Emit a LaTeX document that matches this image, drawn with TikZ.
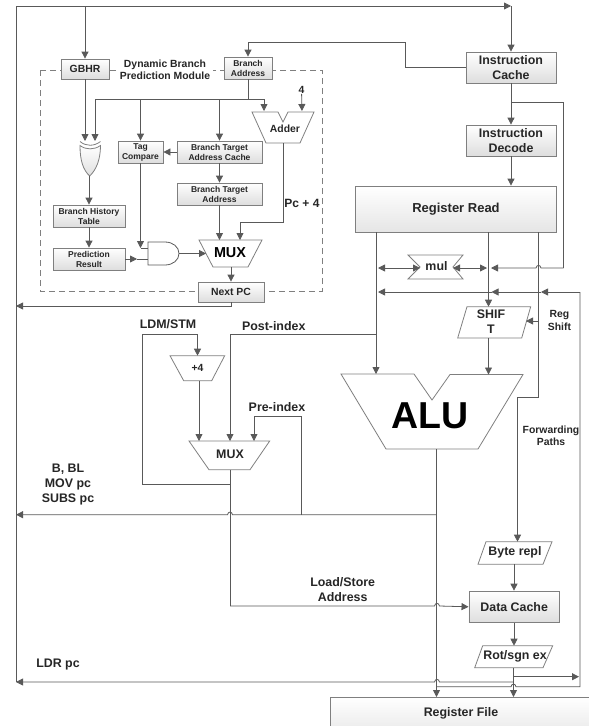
\documentclass[tikz,border=0pt]{standalone}
\usepackage{fontspec}
\setmainfont{Liberation Sans}
\usetikzlibrary{arrows.meta}
\definecolor{linec}{HTML}{595959}
\definecolor{edgec}{HTML}{7F7F7F}
\tikzset{
  wire/.style={draw=linec, line width=0.8pt},
  arrow/.style={wire, -{Triangle[length=7pt,width=7pt]}},
  twoway/.style={wire, {Triangle[length=7pt,width=7pt]}-{Triangle[length=7pt,width=7pt]}},
  outline/.style={draw=edgec, line width=0.8pt},
  fsm/.style={font=\fontsize{8.5}{10}\selectfont\bfseries, text=black!85},
  fmd/.style={font=\fontsize{10.4}{12.3}\selectfont\bfseries, text=black!85},
  flg/.style={font=\fontsize{12.4}{15}\selectfont\bfseries, text=black!85},
  box/.style={outline, rectangle, align=center, inner sep=0pt, top color=white, bottom color=black!13},
  lab/.style={align=center, inner sep=0pt}
}
% hop over a crossing wire, going left or right
\newcommand{\hopl}[2]{-- (#1+2.5,#2) .. controls (#1+2,#2-3.5) and (#1-2,#2-3.5) .. (#1-2.5,#2)}
\newcommand{\hopr}[2]{-- (#1-2.5,#2) .. controls (#1-2,#2-3.5) and (#1+2,#2-3.5) .. (#1+2.5,#2)}
\begin{document}
\begin{tikzpicture}[x=1pt, y=-1pt]
  \useasboundingbox (0,0) rectangle (589,726);

  % Prediction module frame
  \draw[outline, dashed, dash pattern=on 6pt off 4pt] (40,70) rectangle (322,291);
  \node[lab, fmd, fill=white, inner xsep=3pt] (dynlabel) at (165,69.5) {Dynamic Branch\\Prediction Module};

  % Boxes of the prediction module
  \node[box, fmd, minimum width=48pt, minimum height=20pt] (gbhr) at (85,69) {GBHR};
  \node[box, fsm, minimum width=48pt, minimum height=22pt] (braddr) at (248,68) {Branch\\Address};
  \node[box, fsm, minimum width=45pt, minimum height=22pt] (tagcmp) at (140.5,152) {Tag\\Compare};
  \node[box, fsm, minimum width=85pt, minimum height=22pt] (btac) at (219.5,152) {Branch Target\\Address Cache};
  \node[box, fsm, minimum width=85pt, minimum height=22pt] (bta) at (219.5,194) {Branch Target\\Address};
  \node[box, fsm, minimum width=72pt, minimum height=22pt] (histtbl) at (89,216) {Branch History\\Table};
  \node[box, fsm, minimum width=72pt, minimum height=22pt] (predres) at (89,259) {Prediction\\Result};
  \node[box, fmd, minimum width=66pt, minimum height=20pt] (nextpc) at (231,292) {Next PC};

  % Pipeline boxes
  \node[box, flg, minimum width=90pt, minimum height=31pt] (icache) at (511,67.5) {Instruction\\Cache};
  \node[box, flg, minimum width=90pt, minimum height=31pt] (idecode) at (511,140.5) {Instruction\\Decode};
  \node[box, font=\fontsize{13}{15}\selectfont\bfseries, text=black!85, bottom color=black!10, minimum width=200.5pt, minimum height=46pt] (regread) at (456,209) {Register Read};
  \node[box, flg, minimum width=90.5pt, minimum height=31.5pt] (dcache) at (514.2,606.8) {Data Cache};
  \node[box, flg, minimum width=262pt, minimum height=34pt, text depth=4pt, bottom color=black!8] (regfile) at (461,714) {Register File};

  % XOR and AND gates
  \draw[outline] (80,141.5) .. controls (86,146.5) and (94,146.5) .. (100.5,141.5);
  \draw[outline, top color=white, bottom color=black!12] (80,145.5) .. controls (86,150) and (94,150) .. (100.5,145.5)
    .. controls (100.5,160) and (96,170) .. (89.7,176) .. controls (83,170) and (80,160) .. (80,145.5) -- cycle;
  \draw[outline, draw=linec] (148,242) -- (165,242) .. controls (173,242) and (179,247) .. (179,253.5)
    .. controls (179,260) and (173,265) .. (165,265) -- (148,265) -- cycle;

  % Adder
  \draw[outline] (252,112) -- (278,112) -- (283,122) -- (288,112) -- (314,112) -- (300,143) -- (266,143) -- cycle;
  \node[lab, fmd] (addlabel) at (285,129) {Adder};
  % Upper mux
  \draw[outline] (199,240) -- (262,240) -- (248,267) -- (213,267) -- cycle;
  \node[lab, font=\fontsize{14.4}{16}\selectfont\bfseries] (muxlabel) at (230,253) {MUX};
  % mul
  \draw[outline] (408,255) -- (463,255) -- (453,267) -- (463,279) -- (408,279) -- (420,267) -- cycle;
  \node[lab, flg] (mullabel) at (436.5,266) {mul};
  % SHIFT
  \draw[outline] (467,306.7) -- (530.7,306.7) -- (521.7,338) -- (457.7,338) -- cycle;
  \node[lab, flg] (shiftlabel) at (491,322) {SHIF\\T};
  % ALU
  \draw[outline] (341,374) -- (414,374) -- (432,400) -- (450,374.5) -- (523,374.5) -- (478,449) -- (386,449) -- cycle;
  \node[lab, font=\fontsize{37.5}{40}\selectfont\bfseries, text=black] (alulabel) at (430,416) {ALU};
  % +4
  \draw[outline] (170,355.7) -- (224.7,355.7) -- (211.7,380.7) -- (183.7,380.7) -- cycle;
  \node[lab, fmd] (pluslabel) at (197.5,367.5) {+4};
  % Lower mux
  \draw[outline] (189,441) -- (269.7,441) -- (250,469.7) -- (209,469.7) -- cycle;
  \node[lab, flg] (lmuxlabel) at (230,454) {MUX};
  % Byte repl and Rot/sgn
  \draw[outline] (486,541.7) -- (552,541.7) -- (543,564.3) -- (478,564.3) -- cycle;
  \node[lab, flg] (bytelabel) at (515,552.5) {Byte repl};
  \draw[outline] (482.7,645.7) -- (552.7,645.7) -- (543,667.7) -- (474.7,667.7) -- cycle;
  \node[lab, flg] (rotlabel) at (515,656) {Rot/sgn ex};

  % Labels
  \node[lab, fmd] (fourlabel) at (301.5,90) {4};
  \node[lab, flg, font=\fontsize{12}{15}\selectfont\bfseries] (pclabel) at (302,203) {Pc + 4};
  \node[lab, flg] (ldmlabel) at (168,324) {LDM/STM};
  \node[lab, flg] (postlabel) at (273.7,326) {Post-index};
  \node[lab, flg] (prelabel) at (277,407) {Pre-index};
  \node[lab, flg] (blabel) at (68,485) {B, BL\\MOV pc\\SUBS pc};
  \node[lab, fmd] (reglabel) at (559.5,320.5) {Reg\\Shift};
  \node[lab, fmd] (fwdlabel) at (551,436) {Forwarding\\Paths};
  \node[lab, flg] (lslabel) at (342.7,589.5) {Load/Store\\Address};
  \node[lab, flg] (ldrlabel) at (58,664.5) {LDR pc};

  % Junctions
  \coordinate (topl) at (16,6);
  \coordinate (topr) at (511,6);
  \coordinate (loopb) at (16,682);
  \coordinate (loopm) at (16,306);
  \coordinate (retb) at (405.5,42);
  \coordinate (bus) at (248,99);
  \coordinate (xorin1) at (85,141);
  \coordinate (xorin2) at (95,141);
  \coordinate (xorout) at (89,176);
  \coordinate (addin1) at (264,111);
  \coordinate (addin2) at (302,111);
  \coordinate (addout) at (283,143);
  \coordinate (addbend) at (283,222);
  \coordinate (muxin1) at (219.5,240);
  \coordinate (muxin2) at (240,240);
  \coordinate (muxleft) at (206,253.5);
  \coordinate (muxout) at (231,267);
  \coordinate (andbend) at (140.5,248);
  \coordinate (andin1) at (148,248);
  \coordinate (andmid) at (137,259);
  \coordinate (andin2) at (148,259);
  \coordinate (andout) at (179,253.5);
  \coordinate (tapd) at (511,102);
  \coordinate (tapr) at (563.5,102);
  \coordinate (tapb) at (563.5,268);
  \coordinate (mulend) at (491,268);
  \coordinate (rda) at (376,232);
  \coordinate (rdb) at (488.5,232);
  \coordinate (rdc) at (538.5,232);
  \coordinate (mull) at (420,268);
  \coordinate (mulr) at (453,268);
  \coordinate (mula) at (378,268);
  \coordinate (mulb) at (487,268);
  \coordinate (fwdtop) at (580,292);
  \coordinate (fwdc) at (541,292);
  \coordinate (fwdb) at (491.5,292);
  \coordinate (fwda) at (378,292);
  \coordinate (shin) at (488.5,306.7);
  \coordinate (shout) at (488.5,338);
  \coordinate (shreg) at (538.5,321);
  \coordinate (shregin) at (526,321);
  \coordinate (alua) at (376,374);
  \coordinate (alub) at (488.5,374.5);
  \coordinate (aluout) at (436.5,449);
  \coordinate (fwdbend) at (538.5,397);
  \coordinate (fwdleft) at (517.5,397);
  \coordinate (byteout) at (514,564.3);
  \coordinate (bytein) at (517.5,541.7);
  \coordinate (rotin) at (514,645.7);
  \coordinate (rotout) at (513.5,667.7);
  \coordinate (rottap) at (513.5,676.7);
  \coordinate (rotarr) at (579,676.7);
  \coordinate (rotldr) at (513.5,682);
  \coordinate (rfin) at (513.5,697);
  \coordinate (rfalu) at (436.5,697);
  \coordinate (fwdbot) at (580,686.7);
  \coordinate (fwdend) at (437,686.7);
  \coordinate (postr) at (376,334);
  \coordinate (postl) at (230,334);
  \coordinate (lmuxb) at (230,441);
  \coordinate (lmuxa) at (199,441);
  \coordinate (lmuxc) at (254,441);
  \coordinate (lmuxout) at (230,469.7);
  \coordinate (ldmtap) at (230,484.7);
  \coordinate (ldml) at (142,484.7);
  \coordinate (ldmt) at (142,334);
  \coordinate (plusin) at (197.5,355.7);
  \coordinate (plusout) at (199,380.7);
  \coordinate (pcbus) at (436.5,514.7);
  \coordinate (pcl) at (16,514.7);
  \coordinate (pretap) at (301,514.7);
  \coordinate (pret) at (301,416.3);
  \coordinate (lsbend) at (230,606);

  % Prediction module wires
  \draw[wire] (loopb) -- (topl);
  \draw[arrow] (topl) -- (topr);
  \draw[arrow] (topr) -- (icache.north);
  \draw[arrow] (gbhr.north |- topl) -- (gbhr.north);
  \draw[arrow] (icache.west) -| (retb) -| (braddr.north);
  \draw[arrow] (gbhr.south) -- (xorin1);
  \draw[wire] (braddr.south) -- (bus);
  \draw[arrow] (bus) -| (xorin2);
  \draw[arrow] (bus) -| (addin1);
  \draw[arrow] (tagcmp.north |- bus) -- (tagcmp.north);
  \draw[arrow] (btac.north |- bus) -- (btac.north);
  \draw[arrow] (fourlabel) -- (addin2);
  \draw[arrow] (btac.west) -- (tagcmp.east);
  \draw[arrow] (btac.south) -- (bta.north);
  \draw[arrow] (bta.south) -- (muxin1);
  \draw[arrow] (addout) -- (addbend) -| (muxin2);
  \draw[arrow] (xorout) -- (histtbl.north);
  \draw[arrow] (histtbl.south) -- (predres.north);
  \draw[arrow] (tagcmp.south) -- (andbend);
  \draw[wire] (andbend) -- (andin1);
  \draw[arrow] (predres.east) -- (andmid);
  \draw[wire] (andmid) -- (andin2);
  \draw[arrow] (andout) -- (muxleft);
  \draw[arrow] (muxout) -- (nextpc.north);
  \draw[arrow] (nextpc.south) |- (loopm);

  % Pipeline wires
  \draw[arrow] (icache.south) -- (idecode.north);
  \draw[arrow] (idecode.south) -- (idecode.south |- regread.north);
  \draw[wire] (tapd) -- (tapr) -- (tapb);
  \draw[arrow] (tapb) \hopl{538.5}{268} -- (mulend);
  \draw[twoway] (mula) -- (mull);
  \draw[twoway] (mulr) -- (mulb);
  \draw[arrow] (fwdtop) -- (fwdc);
  \draw[arrow] (fwdc) -- (fwdb);
  \draw[arrow] (fwdb) -- (fwda);
  \draw[arrow] (rda) -- (alua);
  \draw[arrow] (rdb) -- (shin);
  \draw[arrow] (shout) -- (alub);
  \draw[arrow] (shreg) -- (shregin);
  \draw[wire] (rdc) -- (fwdbend) -- (fwdleft);
  \draw[arrow] (fwdleft) -- (bytein);
  \draw[arrow] (byteout) -- (dcache.north -| byteout);
  \draw[arrow] (dcache.south -| rotin) -- (rotin);
  \draw[arrow] (aluout) -- (rfalu);
  \draw[arrow] (rotout) -- (rfin);
  \draw[arrow] (rottap) -- (rotarr);
  \draw[arrow] (rotldr) \hopl{437}{682} -- (loopb);
  \draw[wire] (fwdtop) -- (fwdbot) \hopl{513.5}{686.7} -- (fwdend);

  % Memory stage wires
  \draw[wire] (postr) -- (postl);
  \draw[arrow] (postl) -- (lmuxb);
  \draw[arrow] (plusout) -- (lmuxa);
  \draw[wire] (ldmtap) -- (ldml) -- (ldmt);
  \draw[arrow] (ldmt) -| (plusin);
  \draw[arrow] (pcbus) \hopl{230}{514.7} -- (pcl);
  \draw[wire] (pretap) -- (pret);
  \draw[arrow] (pret) -| (lmuxc);
  \draw[wire] (lmuxout) -- (lsbend);
  \draw[arrow] (lsbend) \hopr{437}{606} -- (dcache.west);
\end{tikzpicture}
\end{document}
